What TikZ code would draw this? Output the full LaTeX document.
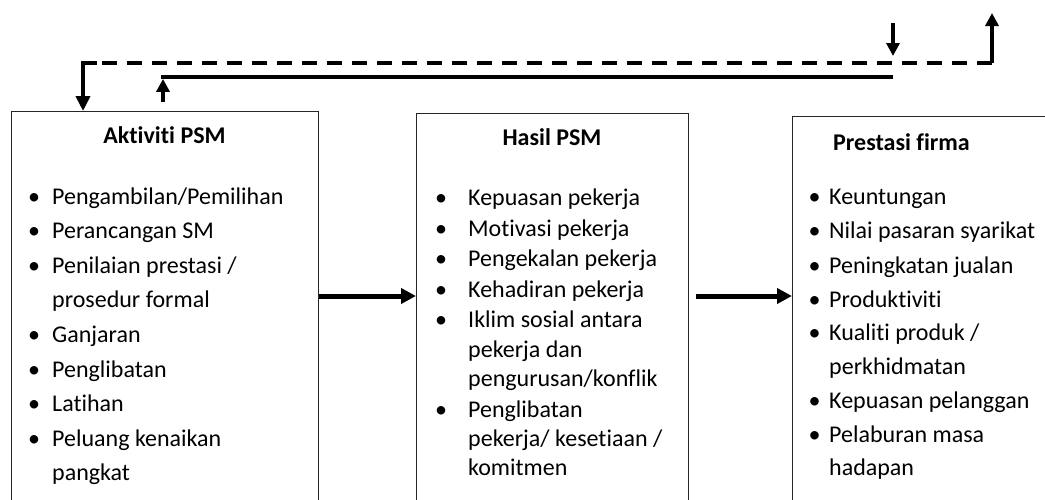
\documentclass[tikz,border=0pt]{standalone}
\usepackage{fontspec}
\setmainfont{Carlito}[RawFeature={-liga;-dlig}]
\usetikzlibrary{arrows.meta}
\tikzset{
  box/.style={draw=black!85, line width=1.3pt, inner sep=0pt},
  item/.style={anchor=base west, inner sep=0pt, font=\fontsize{24}{28}\selectfont},
  bul/.style={anchor=base, inner sep=0pt, font=\fontsize{24}{28}\selectfont},
  ttl/.style={anchor=base, inner sep=0pt, font=\fontsize{24}{28}\selectfont\bfseries},
  flow/.style={line width=5pt, -{Triangle[width=15pt,length=15pt]}},
  fb/.style={line width=3.8pt},
  fbarrow/.style={line width=3.8pt, -{Triangle[width=14pt,length=15pt]}},
  fbsmall/.style={line width=3.6pt, -{Triangle[width=13pt,length=13pt]}},
}
\begin{document}
\begin{tikzpicture}[x=1pt,y=-1pt]
\useasboundingbox (0,0) rectangle (1045,499);
\clip (0,0) rectangle (1045,499);
% boxes
\node[box, minimum width=307pt, minimum height=420pt, anchor=north west] (B1) at (11,111) {};
\node[box, minimum width=272pt, minimum height=420pt, anchor=north west] (B2) at (416,113) {};
\node[box, minimum width=270pt, minimum height=420pt, anchor=north west] (B3) at (792,116) {};
% titles
\node[ttl] (T1) at (164.5,143) {Aktiviti PSM};
\node[ttl] (T2) at (552,145) {Hasil PSM};
\node[ttl,anchor=base west] (T3) at (833,150) {Prestasi firma};
% left box items
\foreach \y/\b/\t [count=\i] in {204/1/{Pengambilan/Pemilihan}, 238/1/Perancangan SM, 273/1/{Penilaian prestasi /}, 307/0/prosedur formal, 342/1/Ganjaran, 377/1/Penglibatan, 411/1/Latihan, 446/1/Peluang kenaikan, 480/0/pangkat}{
  \node[item] (L\i) at (52,\y) {\t};
  \ifnum\b=1 \node[bul] (LB\i) at (34,\y) {•};\fi
}
% middle box items
\foreach \y/\b/\t [count=\i] in {205/1/Kepuasan pekerja, 236/1/Motivasi pekerja, 266/1/Pengekalan pekerja, 297/1/Kehadiran pekerja, 327/1/Iklim sosial antara, 357/0/pekerja dan, 386/0/{pengurusan/konflik}, 417/1/Penglibatan, 446/0/{pekerja/ kesetiaan /}, 475/0/komitmen}{
  \node[item] (M\i) at (468,\y) {\t};
  \ifnum\b=1 \node[bul] (MB\i) at (441,\y) {•};\fi
}
% right box items
\foreach \y/\b/\t [count=\i] in {204/1/Keuntungan, 238/1/Nilai pasaran syarikat, 273/1/Peningkatan jualan, 307/1/Produktiviti, 340/1/{Kualiti produk /}, 374/0/perkhidmatan, 408/1/Kepuasan pelanggan, 442/1/Pelaburan masa, 475/0/hadapan}{
  \node[item] (R\i) at (829,\y) {\t};
  \ifnum\b=1 \node[bul] (RB\i) at (814.5,\y) {•};\fi
}
% forward arrows
\coordinate (A2s) at (696,296);
\draw[flow] (B1.east |- 0,296) -- (B2.west |- 0,296);
\draw[flow] (A2s) -- (B3.west |- A2s);
% feedback dashed
\coordinate (D0) at (992,63);
\coordinate (Dc) at (97,63);
\coordinate (D1) at (83,63);
\coordinate (Dtop) at (992,13);
\draw[fb, dash pattern=on 15pt off 10pt] (D0) -- (Dc);
\draw[fbarrow, line join=miter] (Dc) -- (D1) -- (D1 |- B1.north);
\draw[fbsmall] (992,63) -- (Dtop);
% feedback solid
\coordinate (S0) at (893,77);
\coordinate (S1) at (163,77);
\coordinate (Sb) at (163,102);
\draw[fb] (S0) -- ([xshift=-1.9pt]S1);
\draw[fbsmall] (Sb) -- ([yshift=-1.9pt]S1);
\coordinate (Ktop) at (893,23);
\coordinate (Kend) at (893,56);
\draw[fbsmall] (Ktop) -- (Kend);
\end{tikzpicture}
\end{document}
